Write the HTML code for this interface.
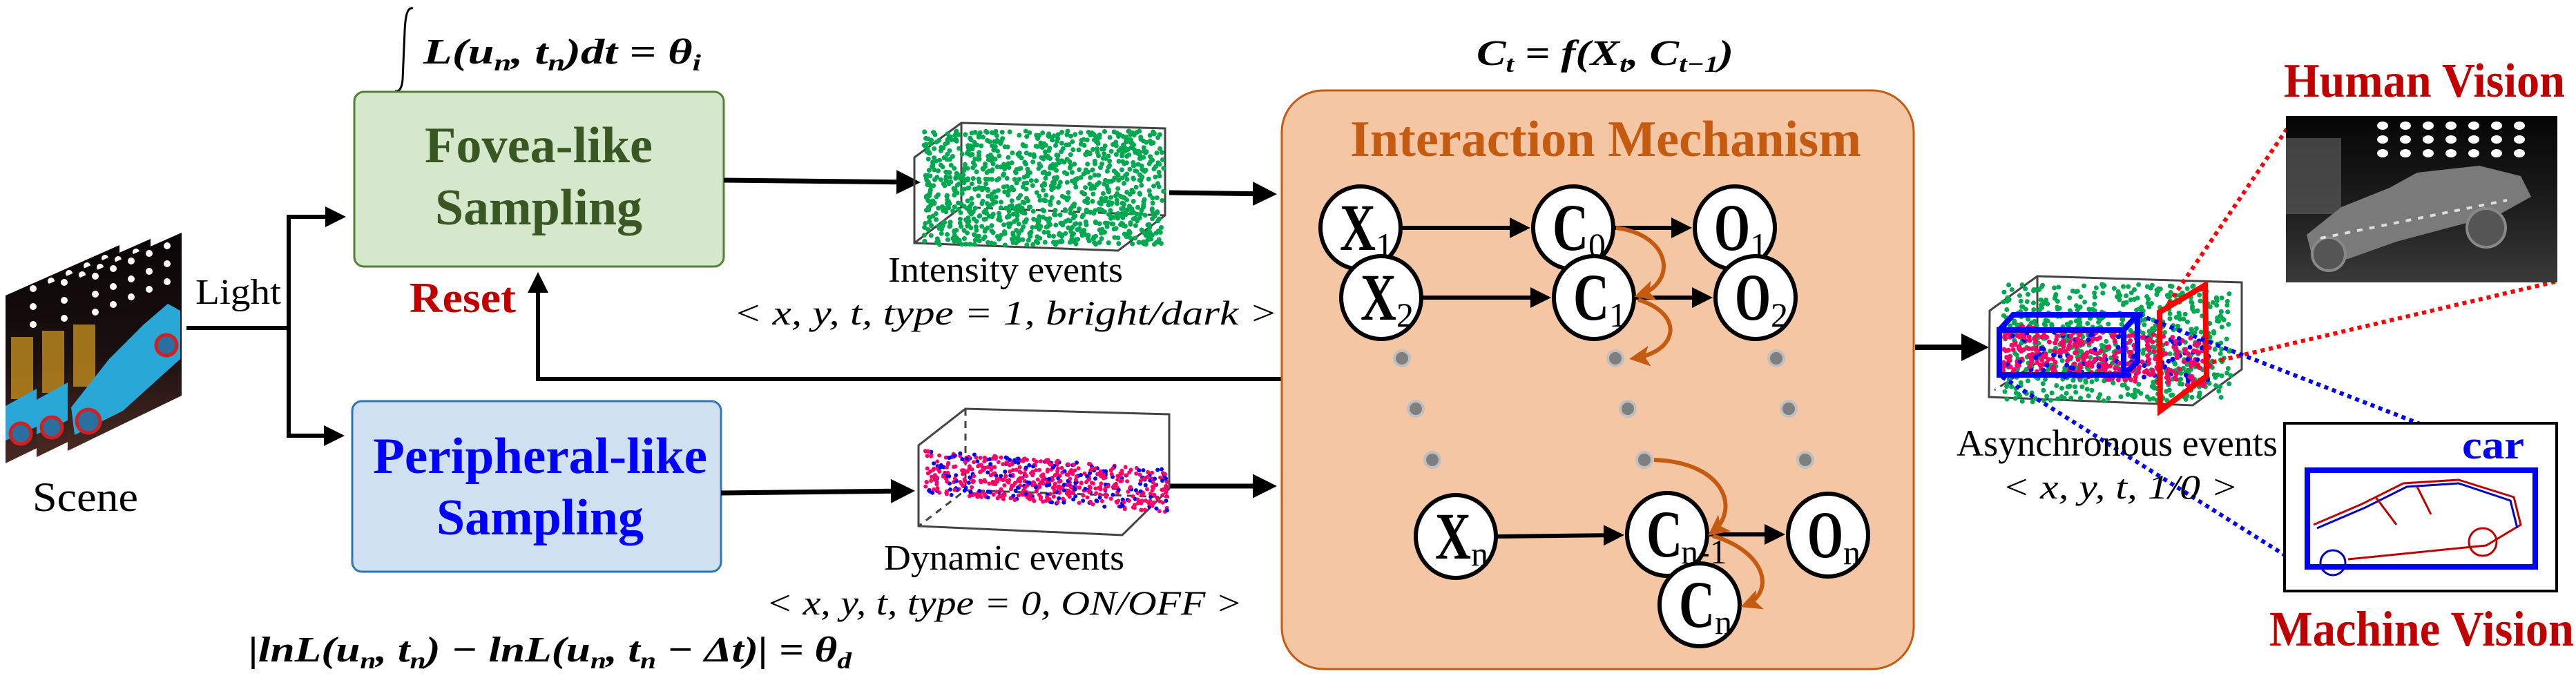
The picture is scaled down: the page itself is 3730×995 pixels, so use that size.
<!DOCTYPE html>
<html><head><meta charset="utf-8"><style>
html,body{margin:0;padding:0;background:#fff;}
svg{display:block;}
text{font-family:"Liberation Serif","Times New Roman",serif;}
</style></head><body>
<svg id="s" width="3730" height="995" viewBox="0 0 3730 995" xmlns="http://www.w3.org/2000/svg">
<defs>
<marker id="ah" markerWidth="5" markerHeight="5" refX="4" refY="2.5" orient="auto" markerUnits="strokeWidth"><path d="M0,0 L5,2.5 L0,5 Z" fill="#000"/></marker>
<marker id="oh" markerWidth="5" markerHeight="5" refX="4" refY="2.5" orient="auto" markerUnits="strokeWidth"><path d="M0,0 L5,2.5 L0,5 L1.2,2.5 Z" fill="#c55a11"/></marker>
<linearGradient id="bg" x1="0" y1="0" x2="0" y2="1"><stop offset="0" stop-color="#0a0506"/><stop offset="0.55" stop-color="#1a1010"/><stop offset="1" stop-color="#4a2a22"/></linearGradient>
<linearGradient id="hv" x1="0" y1="0" x2="0" y2="1"><stop offset="0" stop-color="#050505"/><stop offset="0.6" stop-color="#202020"/><stop offset="1" stop-color="#3a3a3a"/></linearGradient>
</defs>

<g id="frames"></g>
<text x="47" y="740" font-size="60" textLength="153" lengthAdjust="spacingAndGlyphs">Scene</text>
<text x="283" y="440" font-size="52" textLength="124" lengthAdjust="spacingAndGlyphs">Light</text>

<path d="M270,475 L418,475 M418,314 L418,631" stroke="#000" stroke-width="6" fill="none"/>
<path d="M415,314 L495,314" stroke="#000" stroke-width="6" marker-end="url(#ah)"/>
<path d="M415,631 L493,631" stroke="#000" stroke-width="6" marker-end="url(#ah)"/>

<path d="M598,12 C590,10 587,22 586,45 L583,115 C582,128 578,133 572,132" stroke="#000" stroke-width="3" fill="none"/>
<text x="613" y="92" font-size="52" font-weight="bold" font-style="italic" textLength="402" lengthAdjust="spacingAndGlyphs">L(u<tspan font-size="34" dy="10">n</tspan><tspan dy="-10">, t</tspan><tspan font-size="34" dy="10">n</tspan><tspan dy="-10">)dt = θ</tspan><tspan font-size="34" dy="10">i</tspan></text>

<rect x="513" y="133" width="535" height="253" rx="14" fill="#d6e8cc" stroke="#548235" stroke-width="3"/>
<text x="780" y="235" font-size="74" font-weight="bold" fill="#385723" text-anchor="middle" textLength="330" lengthAdjust="spacingAndGlyphs">Fovea-like</text>
<text x="780" y="325" font-size="74" font-weight="bold" fill="#385723" text-anchor="middle" textLength="300" lengthAdjust="spacingAndGlyphs">Sampling</text>
<text x="593" y="452" font-size="62" font-weight="bold" fill="#c00000" textLength="154" lengthAdjust="spacingAndGlyphs">Reset</text>

<rect x="510" y="581" width="534" height="247" rx="14" fill="#cfe0f1" stroke="#2e75b6" stroke-width="3"/>
<text x="782" y="685" font-size="74" font-weight="bold" fill="#0000ff" text-anchor="middle" textLength="484" lengthAdjust="spacingAndGlyphs">Peripheral-like</text>
<text x="782" y="774" font-size="74" font-weight="bold" fill="#0000ff" text-anchor="middle" textLength="300" lengthAdjust="spacingAndGlyphs">Sampling</text>

<text x="360" y="958" font-size="52" font-weight="bold" font-style="italic" textLength="873" lengthAdjust="spacingAndGlyphs">|lnL(u<tspan font-size="34" dy="10">n</tspan><tspan dy="-10">, t</tspan><tspan font-size="34" dy="10">n</tspan><tspan dy="-10">) − lnL(u</tspan><tspan font-size="34" dy="10">n</tspan><tspan dy="-10">, t</tspan><tspan font-size="34" dy="10">n</tspan><tspan dy="-10"> − Δt)| = θ</tspan><tspan font-size="34" dy="10">d</tspan></text>

<path d="M1048,261 L1326,264" stroke="#000" stroke-width="7" marker-end="url(#ah)"/>
<path d="M1044,714 L1318,711" stroke="#000" stroke-width="7" marker-end="url(#ah)"/>
<path d="M1693,279 L1842,281" stroke="#000" stroke-width="7" marker-end="url(#ah)"/>
<path d="M1693,704 L1842,704" stroke="#000" stroke-width="7" marker-end="url(#ah)"/>

<path d="M1856,549 L779,549 L779,400" stroke="#000" stroke-width="6" fill="none" marker-end="url(#ah)"/>

<g stroke="#444" stroke-width="3" fill="none">
<path d="M1324,228 L1392,178 L1687,186 L1687,312 L1619,363 L1324,352 Z M1392,178 L1392,300 M1392,300 L1324,352" />
<path d="M1392,300 L1687,312" stroke-dasharray="10,8"/>
</g>
<g id="d1"></g>
<text x="1286" y="408" font-size="52" textLength="340" lengthAdjust="spacingAndGlyphs">Intensity events</text>
<text x="1062" y="470" font-size="50" font-style="italic" textLength="788" lengthAdjust="spacingAndGlyphs">&lt; x, y, t, type = 1, bright/dark &gt;</text>

<g stroke="#444" stroke-width="3" fill="none">
<path d="M1330,645 L1398,592 L1693,600 L1693,708 L1625,775 L1330,762 Z"/>
<path d="M1398,592 L1398,710 L1330,762 M1398,710 L1693,720" stroke-dasharray="10,8"/>
</g>
<g id="d2"></g>
<text x="1280" y="825" font-size="52" textLength="348" lengthAdjust="spacingAndGlyphs">Dynamic events</text>
<text x="1109" y="890" font-size="50" font-style="italic" textLength="690" lengthAdjust="spacingAndGlyphs">&lt; x, y, t, type = 0, ON/OFF &gt;</text>

<text x="2138" y="94" font-size="52" font-weight="bold" font-style="italic" textLength="372" lengthAdjust="spacingAndGlyphs">C<tspan font-size="34" dy="10">t</tspan><tspan dy="-10"> = f(X</tspan><tspan font-size="34" dy="10">t</tspan><tspan dy="-10">, C</tspan><tspan font-size="34" dy="10">t−1</tspan><tspan dy="-10">)</tspan></text>
<rect x="1856" y="131" width="915" height="838" rx="60" fill="#f5c6a4" stroke="#c55a11" stroke-width="3"/>
<text x="1955" y="226" font-size="74" font-weight="bold" fill="#c55a11" textLength="740" lengthAdjust="spacingAndGlyphs">Interaction Mechanism</text>

<g fill="#7f7f7f" stroke="#bfbfbf" stroke-width="4">
<circle cx="2030" cy="519" r="11"/><circle cx="2339" cy="519" r="11"/><circle cx="2572" cy="519" r="11"/>
<circle cx="2050" cy="592" r="11"/><circle cx="2357" cy="592" r="11"/><circle cx="2590" cy="592" r="11"/>
<circle cx="2074" cy="666" r="11"/><circle cx="2381" cy="666" r="11"/><circle cx="2614" cy="666" r="11"/>
</g>
<g stroke="#000" stroke-width="6" fill="none">
<path d="M2030,330 L2210,330" marker-end="url(#ah)"/>
<path d="M2338,330 L2444,330" marker-end="url(#ah)"/>
<path d="M2060,431 L2240,431" marker-end="url(#ah)"/>
<path d="M2368,431 L2474,431" marker-end="url(#ah)"/>
<path d="M2168,777 L2346,775" marker-end="url(#ah)"/>
<path d="M2474,774 L2579,774" marker-end="url(#ah)"/>
</g>

<g fill="#fff" stroke="#000" stroke-width="6">
<ellipse cx="1970" cy="330" rx="58" ry="60"/>
<ellipse cx="2278" cy="330" rx="58" ry="60"/>
<ellipse cx="2512" cy="330" rx="58" ry="60"/>
<ellipse cx="2000" cy="431" rx="58" ry="60"/>
<ellipse cx="2308" cy="431" rx="58" ry="60"/>
<ellipse cx="2542" cy="431" rx="58" ry="60"/>
<ellipse cx="2108" cy="777" rx="58" ry="60"/>
<ellipse cx="2414" cy="774" rx="58" ry="60"/>
<ellipse cx="2647" cy="775" rx="58" ry="60"/>
<ellipse cx="2461" cy="876" rx="58" ry="60"/>
</g>
<g font-size="96" font-weight="bold" fill="#000">
<text x="1940" y="362" textLength="52" lengthAdjust="spacingAndGlyphs">X</text><text x="1992" y="372" font-size="50" font-weight="normal">1</text>
<text x="2248" y="362" textLength="52" lengthAdjust="spacingAndGlyphs">C</text><text x="2300" y="372" font-size="50" font-weight="normal">0</text>
<text x="2482" y="362" textLength="52" lengthAdjust="spacingAndGlyphs">O</text><text x="2534" y="372" font-size="50" font-weight="normal">1</text>
<text x="1970" y="463" textLength="52" lengthAdjust="spacingAndGlyphs">X</text><text x="2022" y="473" font-size="50" font-weight="normal">2</text>
<text x="2278" y="463" textLength="52" lengthAdjust="spacingAndGlyphs">C</text><text x="2330" y="473" font-size="50" font-weight="normal">1</text>
<text x="2512" y="463" textLength="52" lengthAdjust="spacingAndGlyphs">O</text><text x="2564" y="473" font-size="50" font-weight="normal">2</text>
<text x="2078" y="809" textLength="52" lengthAdjust="spacingAndGlyphs">X</text><text x="2130" y="819" font-size="50" font-weight="normal">n</text>
<text x="2384" y="806" textLength="52" lengthAdjust="spacingAndGlyphs">C</text><text x="2434" y="816" font-size="50" font-weight="normal">n-1</text>
<text x="2617" y="807" textLength="52" lengthAdjust="spacingAndGlyphs">O</text><text x="2669" y="817" font-size="50" font-weight="normal">n</text>
<text x="2431" y="908" textLength="52" lengthAdjust="spacingAndGlyphs">C</text><text x="2483" y="918" font-size="50" font-weight="normal">n</text>
</g>
<g stroke="#c55a11" stroke-width="6" fill="none">
<path d="M2340,330 C2420,340 2430,410 2372,428" marker-end="url(#oh)"/>
<path d="M2372,434 C2440,455 2430,510 2365,519" marker-end="url(#oh)"/>
<path d="M2395,666 C2500,670 2520,740 2478,772" marker-end="url(#oh)"/>
<path d="M2480,776 C2560,800 2570,860 2526,877" marker-end="url(#oh)"/>
</g>

<path d="M2773,503 L2872,503" stroke="#000" stroke-width="8" marker-end="url(#ah)"/>
<g stroke="#444" stroke-width="3" fill="none">
<path d="M2881,450 L2950,400 L3246,409 L3246,535 L3175,587 L2880,575 Z"/>
<path d="M2950,400 L2950,525" />
<path d="M2950,525 L2888,565" stroke-dasharray="10,8"/>
</g>
<g id="d3"></g>
<g stroke="#0000ff" stroke-width="8" fill="none">
<path d="M2895,478 L3075,478 L3075,543 L2895,543 Z M2895,478 L2915,456 L3095,456 L3075,478 M3095,456 L3095,524 L3075,543"/>
</g>
<path d="M3127,452 L3193,413 L3195,545 L3128,595 Z" stroke="#ff0000" stroke-width="8" fill="none"/>
<g stroke-width="6" fill="none" stroke-dasharray="6,6">
<path d="M3140,440 L3318,177" stroke="#ff0000"/>
<path d="M3180,530 L3700,408" stroke="#ff0000"/>
<path d="M3097,456 L3672,679" stroke="#0000ff"/>
<path d="M2899,546 L3337,822" stroke="#0000ff"/>
</g>
<text x="2833" y="660" font-size="54" textLength="465" lengthAdjust="spacingAndGlyphs">Asynchronous events</text>
<text x="2899" y="722" font-size="50" font-style="italic" textLength="342" lengthAdjust="spacingAndGlyphs">&lt; x, y, t, 1/0 &gt;</text>

<text x="3307" y="140" font-size="70" font-weight="bold" fill="#c00000" textLength="407" lengthAdjust="spacingAndGlyphs">Human Vision</text>
<rect x="3310" y="168" width="393" height="241" fill="url(#hv)"/>
<g id="lights"></g>
<rect x="3310" y="200" width="80" height="110" fill="#5a5a5a" opacity="0.7"/>
<g fill="#7a7a7a">
<path d="M3340,340 L3390,300 L3460,272 L3500,250 L3590,240 L3650,255 L3665,285 L3620,310 L3470,350 L3400,375 L3350,380 Z"/>
</g>
<circle cx="3372" cy="368" r="24" fill="#555" stroke="#888" stroke-width="4"/>
<circle cx="3600" cy="330" r="28" fill="#555" stroke="#888" stroke-width="4"/>
<path d="M3360,345 L3630,290" stroke="#ddd" stroke-width="4" stroke-dasharray="8,10"/>

<rect x="3308" y="613" width="394" height="243" fill="#fff" stroke="#000" stroke-width="4"/>
<g stroke-width="3" fill="none">
<path d="M3350,760 L3420,730 L3480,700 L3560,695 L3640,720 L3650,760 L3600,790 L3400,810" stroke="#c00000"/>
<path d="M3355,765 L3425,735 L3485,705 L3560,700 L3635,725 L3645,765" stroke="#0000c0"/>
<circle cx="3595" cy="785" r="20" stroke="#c00000"/>
<circle cx="3378" cy="815" r="18" stroke="#0000c0"/>
<path d="M3440,720 L3470,760 M3500,705 L3520,745" stroke="#c00000"/>
</g>
<rect x="3341" y="681" width="330" height="140" fill="none" stroke="#0000ff" stroke-width="8"/>
<text x="3565" y="664" font-size="58" font-weight="bold" fill="#0000ff" textLength="90" lengthAdjust="spacingAndGlyphs">car</text>
<text x="3286" y="935" font-size="72" font-weight="bold" fill="#c00000" textLength="441" lengthAdjust="spacingAndGlyphs">Machine Vision</text>
</svg>
<script>
(function(){
var NS="http://www.w3.org/2000/svg";
function el(p,t,a){var e=document.createElementNS(NS,t);for(var k in a)e.setAttribute(k,a[k]);p.appendChild(e);return e;}
var seed=7;function r(){seed=(seed*16807)%2147483647;return seed/2147483647;}
var fr=document.getElementById('frames');
[[8,18],[53,9],[98,0]].forEach(function(o,i){
 var L=o[0],dy=o[1];
 var g=el(fr,'g',{});
 el(g,'path',{d:'M'+L+','+(410+dy)+' L'+(L+165)+','+(337+dy)+' L'+(L+165)+','+(573+dy)+' L'+L+','+(653+dy)+' Z',fill:'url(#bg)'});
 el(g,'rect',{x:L+8,y:470+dy,width:32,height:90,fill:'#b8861e',opacity:0.85});
 for(var a=0;a<3;a++)for(var b=0;b<5;b++){el(g,'circle',{cx:L+40+b*26,cy:400-b*11+a*26+dy,r:5,fill:'#fff'});}
 if(i==2){
  el(g,'path',{d:'M'+(L+5)+',590 L'+(L+60)+',520 L'+(L+110)+',470 L'+(L+145)+',440 L'+(L+163)+',450 L'+(L+163)+',520 L'+(L+80)+',595 L'+(L+10)+',630 Z',fill:'#29a8d8'});
  el(g,'circle',{cx:L+30,cy:610,r:17,fill:'#2a6fa0',stroke:'#d02020','stroke-width':5});
  el(g,'circle',{cx:L+143,cy:500,r:15,fill:'#2a6fa0',stroke:'#d02020','stroke-width':5});
 } else {
  el(g,'path',{d:'M'+L+','+(570+dy)+' L'+(L+45)+','+(545+dy)+' L'+(L+45)+','+(600+dy)+' L'+L+','+(620+dy)+' Z',fill:'#29a8d8'});
  el(g,'circle',{cx:L+22,cy:610+dy,r:15,fill:'#2a6fa0',stroke:'#d02020','stroke-width':5});
 }
});
var d1=document.getElementById('d1');
for(var i=0;i<1100;i++){var cl=r()<0.5;var x=cl?1338+r()*160:1500+r()*185;var y=190+r()*165;el(d1,'circle',{cx:x,cy:y,r:3.5,fill:'#00a850'});}
var d2=document.getElementById('d2');
for(var i=0;i<650;i++){var t=r();var x=1340+t*350;var y=652+t*28+r()*62;el(d2,'circle',{cx:x,cy:y,r:3,fill:r()<0.75?'#ff0066':'#0000ff'});}
var d3=document.getElementById('d3');
for(var i=0;i<700;i++){var x=2900+r()*330;var y=412+r()*170;el(d3,'circle',{cx:x,cy:y,r:3.5,fill:'#00a850'});}
for(var i=0;i<450;i++){var t=r();var x=2900+t*300;var y=470+t*20+r()*70;el(d3,'circle',{cx:x,cy:y,r:3.5,fill:r()<0.8?'#ff0066':'#0000ff'});}
var lg=document.getElementById('lights');
for(var a=0;a<3;a++)for(var b=0;b<7;b++){el(lg,'ellipse',{cx:3450+b*33,cy:182+a*20,rx:8,ry:6,fill:'#fff'});}
})();
</script>
</body></html>
